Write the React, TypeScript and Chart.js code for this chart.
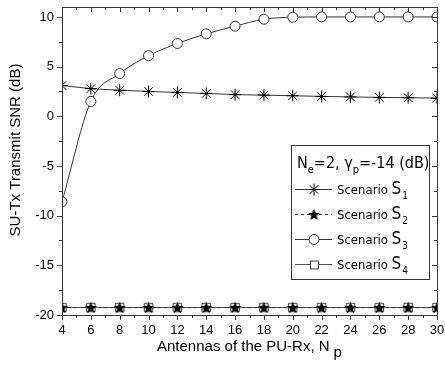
import React, { useEffect, useRef } from "react";
import { Chart, registerables } from "chart.js";

Chart.register(...registerables);

const antennas = [4, 6, 8, 10, 12, 14, 16, 18, 20, 22, 24, 26, 28, 30];
const scenarioS1 = [3.1, 2.78, 2.62, 2.5, 2.4, 2.3, 2.18, 2.13, 2.07, 2.0, 1.95, 1.9, 1.87, 1.83];
const scenarioS2 = [-19.25, -19.25, -19.25, -19.25, -19.25, -19.25, -19.25, -19.25, -19.25, -19.25, -19.25, -19.25, -19.25, -19.25];
const scenarioS3 = [-8.6, 1.5, 4.3, 6.1, 7.33, 8.3, 9.07, 9.77, 9.97, 10, 10, 10, 10, 10];
const scenarioS4 = [-19.25, -19.25, -19.25, -19.25, -19.25, -19.25, -19.25, -19.25, -19.25, -19.25, -19.25, -19.25, -19.25, -19.25];
const yTicks = [-20, -15, -10, -5, 0, 5, 10];
const seriesNames = ["1", "2", "3", "4"];

const AXIS_FONT = "'Liberation Sans', Arial, sans-serif";
const LEG_FONT = "'DejaVu Sans Condensed', 'DejaVu Sans', sans-serif";

function makeStar(size: number): HTMLCanvasElement {
  const c = document.createElement("canvas");
  c.width = size;
  c.height = size;
  const g = c.getContext("2d")!;
  const cx = size / 2, cy = size / 2 + 0.5;
  const R = size / 2 - 0.3, r = R * 0.45;
  g.beginPath();
  for (let i = 0; i < 10; i++) {
    const a = -Math.PI / 2 + (i * Math.PI) / 5;
    const rad = i % 2 === 0 ? R : r;
    const px = cx + rad * Math.cos(a), py = cy + rad * Math.sin(a);
    if (i === 0) g.moveTo(px, py); else g.lineTo(px, py);
  }
  g.closePath();
  g.fillStyle = "#000";
  g.fill();
  return c;
}

function pts(vals: number[]) {
  return antennas.map((x, i) => ({ x, y: vals[i] }));
}

export default function App() {
  const ref = useRef<HTMLCanvasElement>(null);
  useEffect(() => {
    const star = makeStar(13);

    const drawMarker = (ctx: CanvasRenderingContext2D, kind: number, x: number, y: number) => {
      ctx.save();
      ctx.lineWidth = 1;
      ctx.strokeStyle = "#000";
      if (kind === 0) {
        const r = 6;
        ctx.beginPath();
        for (let k = 0; k < 4; k++) {
          const a = (k * Math.PI) / 4;
          ctx.moveTo(x - r * Math.cos(a), y - r * Math.sin(a));
          ctx.lineTo(x + r * Math.cos(a), y + r * Math.sin(a));
        }
        ctx.stroke();
      } else if (kind === 1) {
        ctx.drawImage(star, x - star.width / 2, y - star.height / 2);
      } else if (kind === 2) {
        ctx.beginPath();
        ctx.arc(x, y, 5, 0, Math.PI * 2);
        ctx.fillStyle = "#fff";
        ctx.fill();
        ctx.strokeStyle = "#333";
        ctx.stroke();
      } else {
        ctx.fillStyle = "#fff";
        ctx.fillRect(x - 4, y - 4, 8, 8);
        ctx.strokeStyle = "#444";
        ctx.strokeRect(x - 4 + 0.5, y - 4 + 0.5, 8, 8);
      }
      ctx.restore();
    };

    const decor = {
      id: "decor",
      afterDraw(chart: any) {
        const ctx: CanvasRenderingContext2D = chart.ctx;
        const { left, right, top, bottom } = chart.chartArea;
        const xs = chart.scales.x, ys = chart.scales.y;
        ctx.save();
        ctx.strokeStyle = "#333";
        ctx.lineWidth = 1;
        ctx.strokeRect(Math.round(left) + 0.5, Math.round(top) + 0.5, Math.round(right - left), Math.round(bottom - top));
        ctx.beginPath();
        for (let v = 4; v <= 30; v++) {
          const px = Math.round(xs.getPixelForValue(v)) + 0.5;
          const len = v % 2 === 0 ? 5 : 3;
          ctx.moveTo(px, bottom);
          ctx.lineTo(px, bottom + len);
          ctx.moveTo(px, top);
          ctx.lineTo(px, top + len);
        }
        for (let v = -20; v <= 10; v += 2.5) {
          const py = Math.round(ys.getPixelForValue(v)) + 0.5;
          const len = v % 5 === 0 ? 5 : 3;
          ctx.moveTo(left, py);
          ctx.lineTo(left - len, py);
          ctx.moveTo(right, py);
          ctx.lineTo(right - len, py);
        }
        ctx.stroke();

        ctx.fillStyle = "#000";
        ctx.font = `15px ${AXIS_FONT}`;
        ctx.textBaseline = "alphabetic";
        ctx.textAlign = "left";
        const xt = "Antennas of the PU-Rx, N";
        const xtw = ctx.measureText(xt).width;
        const xStart = left + 95;
        ctx.fillText(xt, xStart, bottom + 36);
        ctx.fillText("p", xStart + xtw + 4, bottom + 42);

        ctx.save();
        ctx.translate(20, 150);
        ctx.rotate(-Math.PI / 2);
        ctx.textAlign = "center";
        ctx.fillText("SU-Tx Transmit SNR (dB)", 0, 0);
        ctx.restore();

        const lx = right - 146, ly = top + 138, lw = 138, lh = 134;
        ctx.fillStyle = "#fff";
        ctx.fillRect(lx, ly, lw, lh);
        ctx.strokeStyle = "#333";
        ctx.strokeRect(lx + 0.5, ly + 0.5, lw, lh);
        ctx.fillStyle = "#000";
        let tx = lx + 6;
        const ty = ly + 23;
        const parts: [string, boolean][] = [["N", false], ["e", true], ["=2, ", false], ["\u03b3", false], ["p", true], ["=-14 (dB)", false]];
        for (const [s, sub] of parts) {
          ctx.font = sub ? `11px ${LEG_FONT}` : `16px ${LEG_FONT}`;
          ctx.fillText(s, tx, sub ? ty + 5 : ty);
          tx += ctx.measureText(s).width;
        }
        for (let i = 0; i < 4; i++) {
          const ry = ly + 44 + i * 25;
          ctx.strokeStyle = i === 3 ? "#555" : "#333";
          ctx.setLineDash(i === 1 ? [3, 3] : []);
          ctx.beginPath();
          ctx.moveTo(lx + 4, ry + 0.5);
          ctx.lineTo(lx + 41, ry + 0.5);
          ctx.stroke();
          ctx.setLineDash([]);
          drawMarker(ctx, i, lx + 23, ry + 0.5);
          ctx.fillStyle = "#000";
          ctx.font = `13px ${LEG_FONT}`;
          const label = "Scenario ";
          const bx = lx + 46;
          ctx.fillText(label, bx, ry + 5);
          const w = ctx.measureText(label).width;
          ctx.font = `17px ${LEG_FONT}`;
          ctx.fillText("S", bx + w, ry + 5);
          const sw = ctx.measureText("S").width;
          ctx.font = `10px ${LEG_FONT}`;
          ctx.fillText(seriesNames[i], bx + w + sw + 1, ry + 10);
        }
        ctx.restore();
      },
    };

    const zeroPad = (s: any) => {
      s.paddingTop = 0;
      s.paddingBottom = 0;
      s.paddingLeft = 0;
      s.paddingRight = 0;
    };

    const edgeClip = { left: 0, right: 0, top: false, bottom: false };

    const chart = new Chart(ref.current!, {
      type: "line",
      data: {
        datasets: [
          {
            label: "Scenario S1",
            data: pts(scenarioS1),
            borderColor: "#333",
            borderWidth: 1,
            pointStyle: "star",
            pointRadius: 6,
            pointBorderColor: "#000",
            pointBorderWidth: 1,
            pointBackgroundColor: "#000",
            clip: edgeClip,
          },
          {
            label: "Scenario S2",
            data: pts(scenarioS2),
            borderColor: "#333",
            borderWidth: 1,
            borderDash: [3, 3],
            pointStyle: star,
            pointRadius: 6,
            clip: edgeClip,
          },
          {
            label: "Scenario S3",
            data: pts(scenarioS3),
            borderColor: "#333",
            borderWidth: 1,
            pointStyle: "circle",
            pointRadius: 5,
            pointBorderColor: "#333",
            pointBackgroundColor: "#fff",
            pointBorderWidth: 1,
            cubicInterpolationMode: "monotone",
            clip: edgeClip,
          },
          {
            label: "Scenario S4",
            data: pts(scenarioS4),
            borderColor: "#444",
            borderWidth: 1,
            pointStyle: "rect",
            pointRadius: 6,
            pointBorderColor: "#444",
            pointBackgroundColor: "#fff",
            pointBorderWidth: 1,
            clip: edgeClip,
          },
        ],
      } as any,
      options: {
        animation: false,
        responsive: false,
        layout: { padding: { top: 5, right: 8, left: 0, bottom: 0 } },
        plugins: { legend: { display: false }, tooltip: { enabled: false } },
        scales: {
          x: {
            type: "linear",
            min: 4,
            max: 30,
            grid: { display: false, drawTicks: false },
            border: { display: false },
            ticks: { stepSize: 2, padding: 8, color: "#000", font: { family: AXIS_FONT, size: 13 }, maxRotation: 0 },
            afterFit: (s: any) => { s.height = 53; zeroPad(s); },
          },
          y: {
            type: "linear",
            min: -20,
            max: 11,
            grid: { display: false, drawTicks: false },
            border: { display: false },
            afterBuildTicks: (s: any) => { s.ticks = yTicks.map((v) => ({ value: v })); },
            ticks: { padding: 8, color: "#000", font: { family: AXIS_FONT, size: 13 } },
            afterFit: (s: any) => { s.width = 62; zeroPad(s); },
          },
        },
      } as any,
      plugins: [decor],
    });
    return () => chart.destroy();
  }, []);

  return (
    <div style={{ position: "absolute", left: 0, top: 0, width: 445, height: 368, background: "#fff" }}>
      <canvas ref={ref} width={445} height={368} style={{ display: "block" }} />
    </div>
  );
}
